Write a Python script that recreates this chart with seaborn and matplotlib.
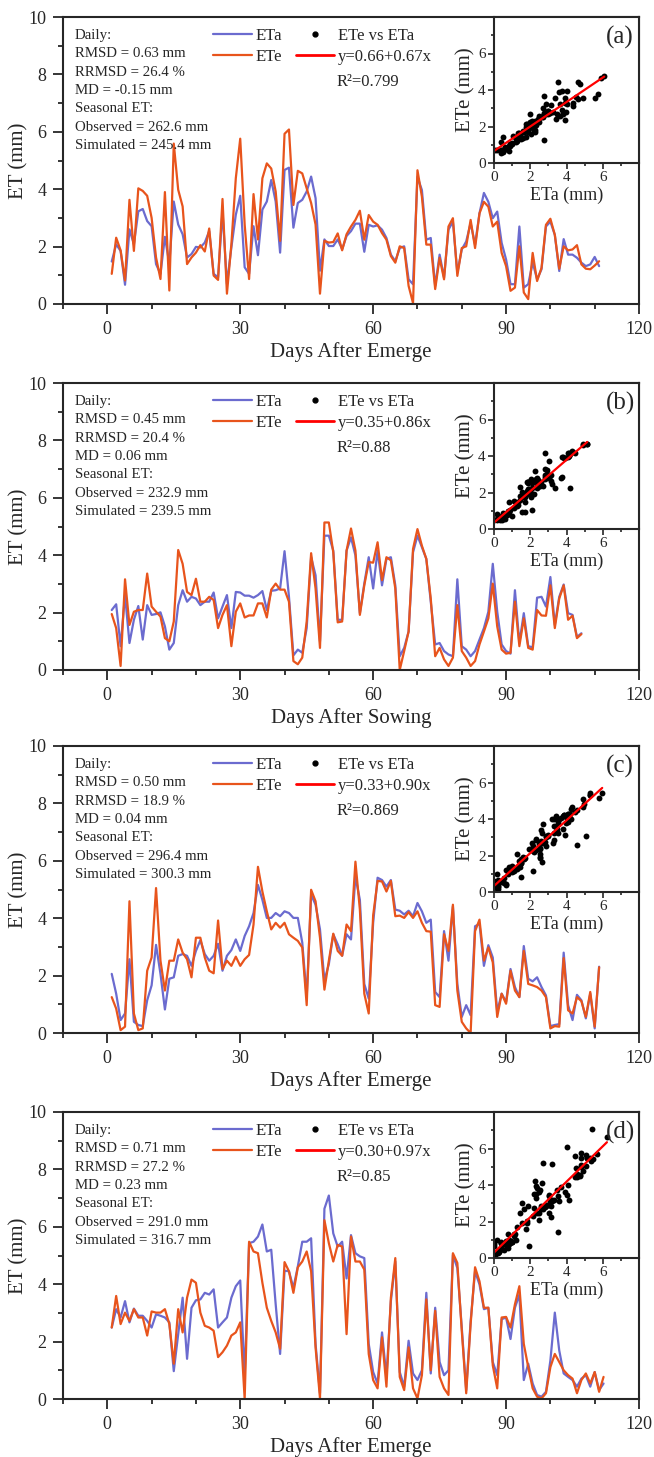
import numpy as np
import pandas as pd
import seaborn as sns
import matplotlib.pyplot as plt
from matplotlib.ticker import MultipleLocator
from matplotlib.lines import Line2D

# datos (ET diaria, mm)
eta_a = [1.48, 2.08, 1.85, 0.67, 2.60, 2.08, 3.23, 3.31, 2.89, 2.71,
         1.39, 1.05, 2.34, 1.40, 3.57, 2.77, 2.43, 1.62, 1.74, 1.99,
         1.97, 2.14, 2.54, 1.05, 0.93, 3.23, 0.70, 1.97, 3.11, 3.77,
         1.28, 1.05, 2.71, 1.70, 3.29, 3.57, 4.32, 3.57, 1.79, 4.67,
         4.75, 2.66, 3.52, 3.63, 3.92, 4.44, 3.69, 1.16, 2.25, 2.02,
         2.02, 2.25, 1.91, 2.37, 2.54, 2.80, 2.80, 1.82, 2.76, 2.70,
         2.74, 2.59, 2.30, 1.72, 1.49, 1.95, 2.01, 0.86, 0.69, 4.43,
         3.97, 2.24, 2.30, 0.63, 1.72, 0.92, 2.59, 2.87, 1.09, 1.90,
         2.18, 2.82, 2.07, 3.16, 3.87, 3.56, 2.99, 3.22, 2.13, 1.55,
         0.69, 0.69, 2.70, 0.57, 0.69, 1.44, 0.86, 1.21, 2.70, 2.87,
         2.41, 1.15, 2.26, 1.72, 1.72, 1.61, 1.44, 1.32, 1.38, 1.64, 1.32]
ete_a = [1.05, 2.31, 1.87, 0.82, 3.63, 1.85, 4.03, 3.94, 3.77, 3.00,
         1.62, 0.87, 3.90, 0.47, 5.59, 3.98, 3.40, 1.39, 1.62, 1.79,
         2.05, 1.83, 2.63, 0.99, 0.84, 3.66, 0.36, 2.08, 4.38, 5.76,
         2.77, 0.87, 3.83, 2.25, 4.38, 4.90, 4.72, 3.92, 2.20, 5.93,
         6.08, 3.45, 4.64, 4.55, 4.03, 3.52, 2.77, 0.36, 2.20, 2.14,
         2.16, 2.46, 1.87, 2.43, 2.70, 2.93, 3.25, 2.24, 3.10, 2.87,
         2.76, 2.47, 2.24, 1.67, 1.44, 2.01, 1.95, 0.63, 0.03, 4.66,
         3.74, 2.07, 2.07, 0.52, 1.61, 0.86, 2.70, 2.99, 0.98, 1.95,
         2.01, 2.93, 1.95, 3.16, 3.56, 3.39, 2.70, 2.87, 1.78, 1.32,
         0.46, 0.57, 2.01, 0.40, 0.17, 1.78, 0.80, 1.26, 2.76, 2.97,
         2.41, 1.23, 2.01, 1.87, 1.90, 2.05, 1.38, 1.23, 1.21, 1.34, 1.49]

eta_b = [2.09, 2.29, 0.83, 2.61, 0.94, 1.75, 2.23, 1.06, 2.26, 1.92,
         1.95, 2.01, 1.52, 0.71, 0.94, 2.26, 2.78, 2.38, 2.55, 2.49,
         2.26, 2.38, 2.38, 2.70, 1.80, 2.21, 2.61, 1.46, 2.72, 2.70,
         2.59, 2.59, 2.52, 2.61, 2.75, 2.09, 2.76, 2.78, 2.84, 4.14,
         2.55, 0.51, 0.71, 0.60, 1.46, 3.93, 3.30, 1.00, 4.68, 4.68,
         4.16, 1.75, 1.75, 4.16, 4.62, 3.99, 1.98, 3.01, 3.93, 2.84,
         4.16, 2.95, 3.87, 3.93, 2.95, 0.48, 0.77, 1.34, 4.10, 4.68,
         4.28, 3.87, 2.38, 0.89, 0.94, 0.66, 0.54, 0.48, 3.16, 0.83,
         0.71, 0.48, 0.66, 1.06, 1.46, 2.03, 3.70, 2.03, 0.89, 0.66,
         0.57, 2.78, 0.94, 1.98, 0.83, 0.79, 2.52, 2.55, 2.21, 3.24,
         1.57, 2.55, 2.98, 1.98, 1.92, 1.15, 1.28]
ete_b = [1.95, 1.46, 0.14, 3.16, 1.57, 2.03, 2.09, 2.09, 3.36, 2.21,
         2.03, 1.86, 1.11, 1.00, 1.69, 4.18, 3.70, 2.72, 2.61, 3.18,
         2.38, 2.38, 2.55, 2.44, 1.46, 1.92, 2.26, 0.83, 2.03, 2.32,
         1.83, 1.90, 1.90, 2.32, 2.32, 1.83, 2.80, 3.01, 2.80, 2.80,
         2.38, 0.31, 0.20, 0.43, 1.69, 4.07, 2.84, 0.77, 5.14, 5.14,
         4.10, 1.66, 1.69, 4.16, 4.93, 4.16, 1.92, 2.95, 3.76, 3.74,
         4.45, 3.13, 3.93, 3.82, 2.84, 0.00, 0.66, 1.34, 4.22, 4.91,
         4.33, 3.87, 2.49, 0.48, 0.77, 0.37, 0.14, 0.43, 2.26, 0.66,
         0.43, 0.14, 0.31, 0.89, 1.34, 1.80, 3.01, 1.52, 0.71, 0.57,
         0.60, 2.38, 0.83, 1.80, 0.77, 0.71, 2.09, 1.90, 1.89, 2.95,
         1.46, 2.49, 2.95, 1.75, 1.89, 1.11, 1.25]

eta_c = [2.06, 1.37, 0.45, 0.68, 2.57, 0.39, 0.28, 0.24, 1.14, 1.66,
         3.07, 2.06, 0.82, 1.89, 1.94, 2.69, 2.75, 2.69, 2.34, 2.86,
         3.23, 2.75, 2.52, 2.69, 3.11, 2.17, 2.69, 2.89, 3.26, 2.86,
         3.38, 3.72, 4.18, 5.16, 4.64, 4.01, 4.01, 4.18, 4.07, 4.24,
         4.18, 4.01, 4.01, 3.15, 1.25, 4.82, 4.47, 3.61, 1.83, 2.40,
         3.44, 3.09, 2.69, 3.44, 3.26, 5.45, 4.64, 1.71, 1.20, 3.84,
         5.41, 5.33, 5.10, 5.33, 4.30, 4.26, 4.13, 4.26, 4.07, 4.53,
         4.24, 3.84, 3.95, 1.43, 1.25, 3.55, 2.52, 4.41, 1.71, 0.56,
         0.97, 0.62, 3.72, 3.80, 2.34, 3.06, 2.63, 0.74, 1.37, 1.08,
         2.23, 1.60, 1.25, 3.03, 1.89, 1.80, 1.94, 1.60, 1.31, 0.24,
         0.28, 0.31, 2.80, 0.97, 0.45, 1.33, 1.14, 0.51, 1.37, 0.16, 2.31]
ete_c = [1.25, 0.85, 0.10, 0.22, 4.59, 0.68, 0.10, 0.16, 2.17, 2.63,
         5.05, 2.52, 1.48, 2.52, 2.52, 3.26, 2.80, 2.57, 1.94, 3.32,
         3.32, 2.63, 2.17, 2.08, 3.92, 2.23, 2.52, 2.34, 2.66, 2.34,
         2.57, 2.72, 3.78, 5.79, 4.93, 4.24, 3.61, 3.84, 3.67, 3.84,
         3.44, 3.32, 3.21, 2.98, 0.97, 4.99, 4.59, 3.32, 1.51, 2.52,
         3.46, 2.86, 2.69, 3.78, 3.55, 5.97, 4.30, 1.37, 0.68, 4.10,
         5.30, 5.28, 4.93, 5.30, 4.07, 4.09, 4.01, 4.21, 4.01, 4.24,
         3.84, 3.55, 3.53, 0.97, 0.91, 3.44, 2.86, 4.47, 1.48, 0.39,
         0.16, 0.00, 3.55, 3.95, 2.52, 2.98, 2.46, 0.56, 1.37, 1.02,
         2.17, 1.48, 1.25, 2.86, 1.71, 1.66, 1.60, 1.48, 1.25, 0.16,
         0.24, 0.22, 2.61, 0.79, 0.68, 1.25, 1.11, 0.56, 1.43, 0.22, 2.29]

eta_d = [2.49, 3.13, 2.84, 3.41, 2.67, 3.15, 2.90, 2.90, 2.72, 2.49,
         2.95, 2.90, 2.84, 2.67, 0.97, 2.26, 3.53, 1.40, 3.18, 3.44,
         3.47, 3.70, 3.64, 3.82, 2.49, 2.67, 2.84, 3.53, 3.93, 4.13,
         0.77, 5.43, 5.48, 5.66, 6.08, 5.14, 5.20, 3.30, 1.57, 4.47,
         4.45, 3.87, 4.62, 5.48, 5.48, 5.60, 1.92, 0.20, 6.63, 7.09,
         5.77, 5.31, 5.48, 4.20, 5.71, 5.08, 4.97, 4.91, 1.92, 0.94,
         0.54, 2.32, 0.77, 3.41, 4.79, 0.94, 0.43, 2.03, 0.89, 0.66,
         1.00, 3.70, 0.89, 3.18, 1.29, 0.83, 1.00, 5.02, 4.56, 2.49,
         0.31, 2.72, 4.45, 3.99, 3.13, 3.18, 1.29, 0.83, 2.78, 2.84,
         2.09, 3.18, 3.64, 0.66, 1.23, 0.54, 0.14, 0.08, 0.25, 1.34,
         3.01, 1.69, 0.89, 0.77, 0.66, 0.43, 0.71, 0.83, 0.43, 0.94, 0.31, 0.54]
ete_d = [2.49, 3.59, 2.61, 3.01, 2.72, 3.13, 2.84, 2.84, 2.21, 3.05,
         3.01, 3.01, 3.13, 2.61, 1.23, 3.13, 2.32, 3.53, 4.16, 4.05,
         3.01, 2.55, 2.49, 2.38, 1.46, 1.63, 1.86, 2.21, 2.32, 2.67,
         0.00, 5.48, 5.14, 5.08, 4.05, 3.18, 2.72, 2.32, 1.75, 4.77,
         4.45, 3.70, 4.59, 4.79, 5.14, 4.45, 1.80, 0.02, 6.23, 5.43,
         4.79, 5.37, 5.31, 2.26, 5.66, 4.79, 4.79, 4.51, 1.57, 0.66,
         0.37, 2.15, 0.43, 3.53, 4.91, 0.77, 0.31, 1.80, 0.37, 0.02,
         0.83, 3.47, 1.00, 3.07, 0.77, 0.37, 0.14, 5.08, 4.74, 2.38,
         0.20, 2.61, 4.59, 4.10, 3.18, 3.18, 1.17, 0.37, 2.84, 2.86,
         2.49, 3.30, 3.93, 1.92, 1.11, 0.37, 0.08, 0.02, 0.20, 1.11,
         1.57, 1.29, 1.00, 0.83, 0.71, 0.20, 0.66, 0.89, 0.54, 0.94, 0.25, 0.77]

# estadisticos escritos en cada panel
panel_labels = ['(a)', '(b)', '(c)', '(d)']
x_titles = ['Days After Emerge', 'Days After Sowing', 'Days After Emerge', 'Days After Emerge']
rmsd = [0.63, 0.45, 0.50, 0.71]
rrmsd = [26.4, 20.4, 18.9, 27.2]
md = [-0.15, 0.06, 0.04, 0.23]
observed = [262.6, 232.9, 296.4, 291.0]
simulated = [245.4, 239.5, 300.3, 316.7]
intercepts = [0.66, 0.35, 0.33, 0.30]
slopes = [0.67, 0.86, 0.90, 0.97]
r2_text = ['0.799', '0.88', '0.869', '0.85']

eta_all = [eta_a, eta_b, eta_c, eta_d]
ete_all = [ete_a, ete_b, ete_c, ete_d]

sns.set_style('ticks')
plt.rcParams['font.family'] = ['Liberation Serif', 'DejaVu Serif']

c_eta = '#6b6bcf'
c_ete = '#e8541c'

W, H = 654, 1457
fig = plt.figure(figsize=(W / 100, H / 100), dpi=100)
tops = [17, 383, 746, 1112]   # borde superior de cada panel (px)
left, ax_w, ax_h = 63, 576, 287

for i in range(4):
    top = tops[i]
    ax = fig.add_axes([left / W, 1 - (top + ax_h) / H, ax_w / W, ax_h / H])

    df_a = pd.DataFrame({'day': np.arange(1, len(eta_all[i]) + 1), 'ET': eta_all[i]})
    df_e = pd.DataFrame({'day': np.arange(1, len(ete_all[i]) + 1), 'ET': ete_all[i]})
    sns.lineplot(data=df_a, x='day', y='ET', color=c_eta, linewidth=1.6, ax=ax)
    sns.lineplot(data=df_e, x='day', y='ET', color=c_ete, linewidth=1.6, ax=ax)

    ax.set_xlim(-10, 120)
    ax.set_ylim(0, 10)
    ax.set_xticks([0, 30, 60, 90, 120])
    ax.xaxis.set_minor_locator(MultipleLocator(10))
    ax.yaxis.set_major_locator(MultipleLocator(2))
    ax.yaxis.set_minor_locator(MultipleLocator(1))
    ax.tick_params(which='major', direction='out', length=7, width=1.3, labelsize=13, pad=5)
    ax.tick_params(which='minor', direction='out', length=3.5, width=1.3)
    for sp in ax.spines.values():
        sp.set_linewidth(1.5)

    ax.set_xlabel(x_titles[i], fontsize=15, va='top')
    ax.set_ylabel('ET (mm)', fontsize=15)
    ax.xaxis.set_label_coords(0.5, -0.132)
    ax.yaxis.set_label_coords(-0.06, 0.5)

    # cuadro de estadisticos
    box = (f'Daily:\nRMSD = {rmsd[i]:.2f} mm\nRRMSD = {rrmsd[i]:.1f} %\n'
           f'MD = {md[i]:.2f} mm\nSeasonal ET:\nObserved = {observed[i]:.1f} mm\n'
           f'Simulated = {simulated[i]:.1f} mm')
    ax.text(0.021, 0.958, box, transform=ax.transAxes, fontsize=10.7,
            va='top', ha='left', linespacing=1.53)

    # leyenda
    handles = [Line2D([], [], color=c_eta, lw=1.6),
               Line2D([], [], color=c_ete, lw=1.6),
               Line2D([], [], ls='none', marker='o', ms=3.5, color='black'),
               Line2D([], [], color='red', lw=2)]
    labels = ['ETa', 'ETe', 'ETe vs ETa', f'y={intercepts[i]:.2f}+{slopes[i]:.2f}x']
    ax.legend(handles, labels, ncol=2, loc='upper left', bbox_to_anchor=(0.261, 0.962),
              frameon=False, fontsize=12, handlelength=2.3, handletextpad=0.25,
              columnspacing=0.8, labelspacing=0.3, borderpad=0, borderaxespad=0)
    ax.text(0.4757, 0.775, f'R²={r2_text[i]}', transform=ax.transAxes,
            fontsize=12, va='center', ha='left')

    # grafico insertado ETe vs ETa
    axin = fig.add_axes([494 / W, 1 - (top + 146) / H, 145 / W, 146 / H])
    sns.scatterplot(x=ete_all[i], y=eta_all[i], color='black', s=18, linewidth=0, ax=axin)
    xs = np.array([0, max(ete_all[i])])
    axin.plot(xs, intercepts[i] + slopes[i] * xs, color='red', lw=1.6)
    axin.set_xlim(0, 8)
    axin.set_ylim(0, 8)
    axin.set_xticks([0, 2, 4, 6])
    axin.set_yticks([0, 2, 4, 6])
    axin.xaxis.set_minor_locator(MultipleLocator(1))
    axin.yaxis.set_minor_locator(MultipleLocator(1))
    axin.tick_params(which='major', direction='out', length=4, width=1.2, labelsize=11, pad=2)
    axin.tick_params(which='minor', direction='out', length=2.5, width=1.2)
    for sp in axin.spines.values():
        sp.set_linewidth(1.5)
    axin.set_xlabel('ETa (mm)', fontsize=13, va='top')
    axin.set_ylabel('ETe (mm)', fontsize=15)
    axin.xaxis.set_label_coords(0.5, -0.165)
    axin.yaxis.set_label_coords(-0.125, 0.5)
    axin.text(0.87, 0.86, panel_labels[i], transform=axin.transAxes,
              fontsize=18, ha='center', va='center')

fig.savefig('out.png', dpi=100)
